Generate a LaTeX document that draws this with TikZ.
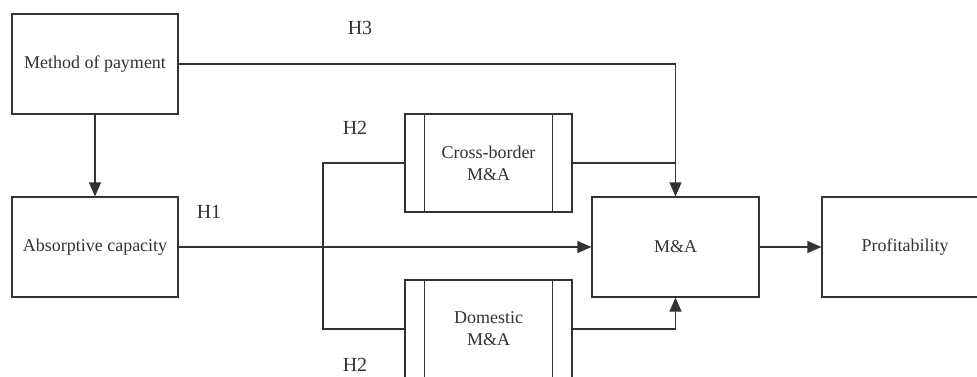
\documentclass[tikz,border=0pt]{standalone}
\usepackage{fontspec}
\setmainfont{Liberation Serif}
\usetikzlibrary{arrows.meta}
\definecolor{ink}{HTML}{333333}
\begin{document}
\begin{tikzpicture}[x=1pt,y=-1pt,
  box/.style={draw=ink,line width=1.2pt,minimum width=166pt,minimum height=100pt,inner sep=0pt,
    font=\fontsize{18pt}{22pt}\selectfont,text=ink,align=center},
  dbox/.style={box,minimum width=167pt,minimum height=98pt},
  conn/.style={draw=ink,line width=1.2pt},
  arr/.style={conn,-{Triangle[length=14pt,width=12pt]}},
  hlab/.style={font=\fontsize{20pt}{24pt}\selectfont,text=ink,inner sep=0pt}]
\useasboundingbox (0,0) rectangle (977,376);
\clip (0,0) rectangle (977,376);
\fill[white] (0,0) rectangle (977,376);
\node[box] (mp) at (95,64) {Method of payment};
\node[box] (ac) at (95,247) {Absorptive capacity};
\node[dbox] (cb) at (488.5,163) {Cross-border\\M\&A};
\node[dbox] (dm) at (488.5,329) {Domestic\\M\&A};
\node[box,minimum width=167pt] (ma) at (675.5,247) {M\&A};
\node[box] (pr) at (905,247) {Profitability};
\draw[conn] ([xshift=20pt]cb.north west) -- ([xshift=20pt]cb.south west);
\draw[conn] ([xshift=-20pt]cb.north east) -- ([xshift=-20pt]cb.south east);
\draw[conn] ([xshift=20pt]dm.north west) -- ([xshift=20pt]dm.south west);
\draw[conn] ([xshift=-20pt]dm.north east) -- ([xshift=-20pt]dm.south east);
\coordinate (jt) at (323,163);
\coordinate (jb) at (323,329);
\draw[arr] (mp.south) -- (ac.north);
\draw[arr] (mp.east) -| (ma.north);
\draw[arr] (ac.east) -- (ma.west);
\draw[conn] (cb.east) -| (ma.north);
\draw[arr] (dm.east) -| (ma.south);
\draw[conn] (cb.west) -- (jt) -- (jb) -- (dm.west);
\draw[arr] (ma.east) -- (pr.west);
\node[hlab] (h3) at (360,28) {H3};
\node[hlab] (h1) at (209,212) {H1};
\node[hlab] (h2a) at (355,128) {H2};
\node[hlab] (h2b) at (355,365) {H2};
\end{tikzpicture}
\end{document}
